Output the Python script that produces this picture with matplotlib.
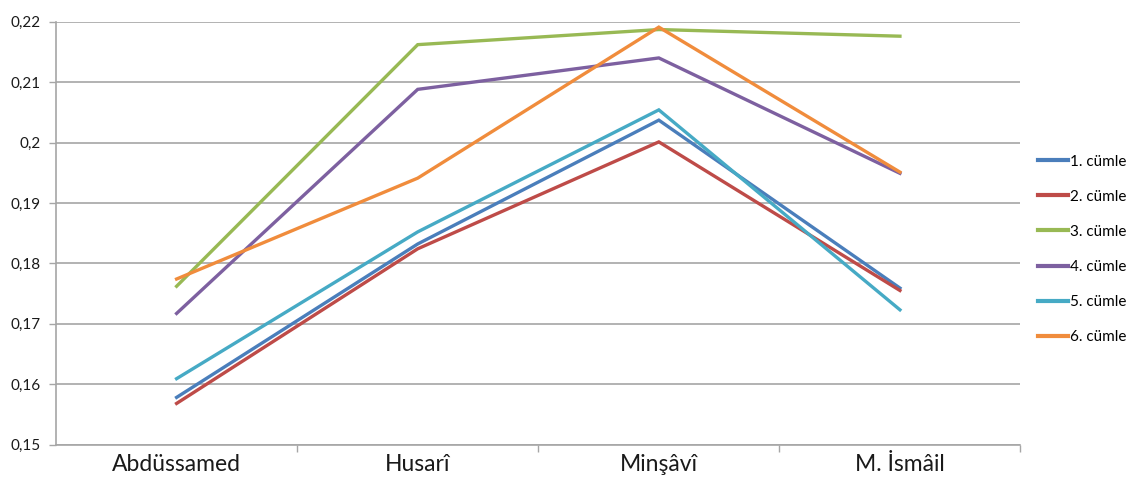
import matplotlib
matplotlib.use("Agg")
import matplotlib.pyplot as plt
from matplotlib.ticker import FixedLocator, FuncFormatter

categories = ["Abdüssamed", "Husarî", "Minşâvî", "M. İsmâil"]
series_names = ["1. cümle", "2. cümle", "3. cümle", "4. cümle", "5. cümle", "6. cümle"]
s1 = [0.1578, 0.1832, 0.2037, 0.1759]
s2 = [0.1568, 0.1824, 0.2001, 0.1755]
s3 = [0.1762, 0.2162, 0.2187, 0.2176]
s4 = [0.1717, 0.2088, 0.2140, 0.1949]
s5 = [0.1609, 0.1852, 0.2054, 0.1723]
s6 = [0.1774, 0.1941, 0.2191, 0.1951]
yticks = [0.15, 0.16, 0.17, 0.18, 0.19, 0.20, 0.21, 0.22]

colors = ["#4A7EBB", "#BE4B48", "#98B954", "#7D60A0", "#46AAC5", "#F08C3C"]
plt.rcParams["font.family"] = ["Lato", "DejaVu Sans"]

fig = plt.figure(figsize=(11.32, 4.79), dpi=100)
ax = fig.add_axes([0.0495, 0.072, 0.852, 0.8827])

x = list(range(len(categories)))
for vals, name, c in zip([s1, s2, s3, s4, s5, s6], series_names, colors):
    ax.plot(x, vals, color=c, lw=2.4, label=name, solid_joinstyle="miter")

ax.set_xlim(-0.5, len(categories) - 0.5)
ax.set_ylim(0.15, 0.22)
ax.set_yticks(yticks)

def fmt(v, pos):
    s = ("%.2f" % v).rstrip("0").rstrip(".")
    return s.replace(".", ",")

ax.yaxis.set_major_formatter(FuncFormatter(fmt))
ax.grid(axis="y", color="#a6a6a6", lw=1.2)
ax.set_axisbelow(True)

ax.set_xticks(x)
ax.set_xticklabels(categories, fontsize=16.5, color="#1a1a1a")
ax.xaxis.set_minor_locator(FixedLocator([i + 0.5 for i in x]))
ax.tick_params(axis="x", which="major", length=0, pad=7)
ax.tick_params(axis="x", which="minor", length=5, color="#a6a6a6", width=1)
ax.tick_params(axis="y", length=5, color="#a6a6a6", width=1, labelsize=11, pad=6, labelcolor="#1a1a1a")

for sp in ["top", "right"]:
    ax.spines[sp].set_visible(False)
for sp in ["left", "bottom"]:
    ax.spines[sp].set_color("#a6a6a6")
    ax.spines[sp].set_linewidth(1.2)

leg = fig.legend(loc="upper left", bbox_to_anchor=(0.912, 0.69), frameon=False,
                 fontsize=11, handlelength=1.9, handletextpad=0.15,
                 labelspacing=1.38, borderaxespad=0)
for h in leg.get_lines():
    h.set_linewidth(3)

fig.savefig("out.png", dpi=100)
